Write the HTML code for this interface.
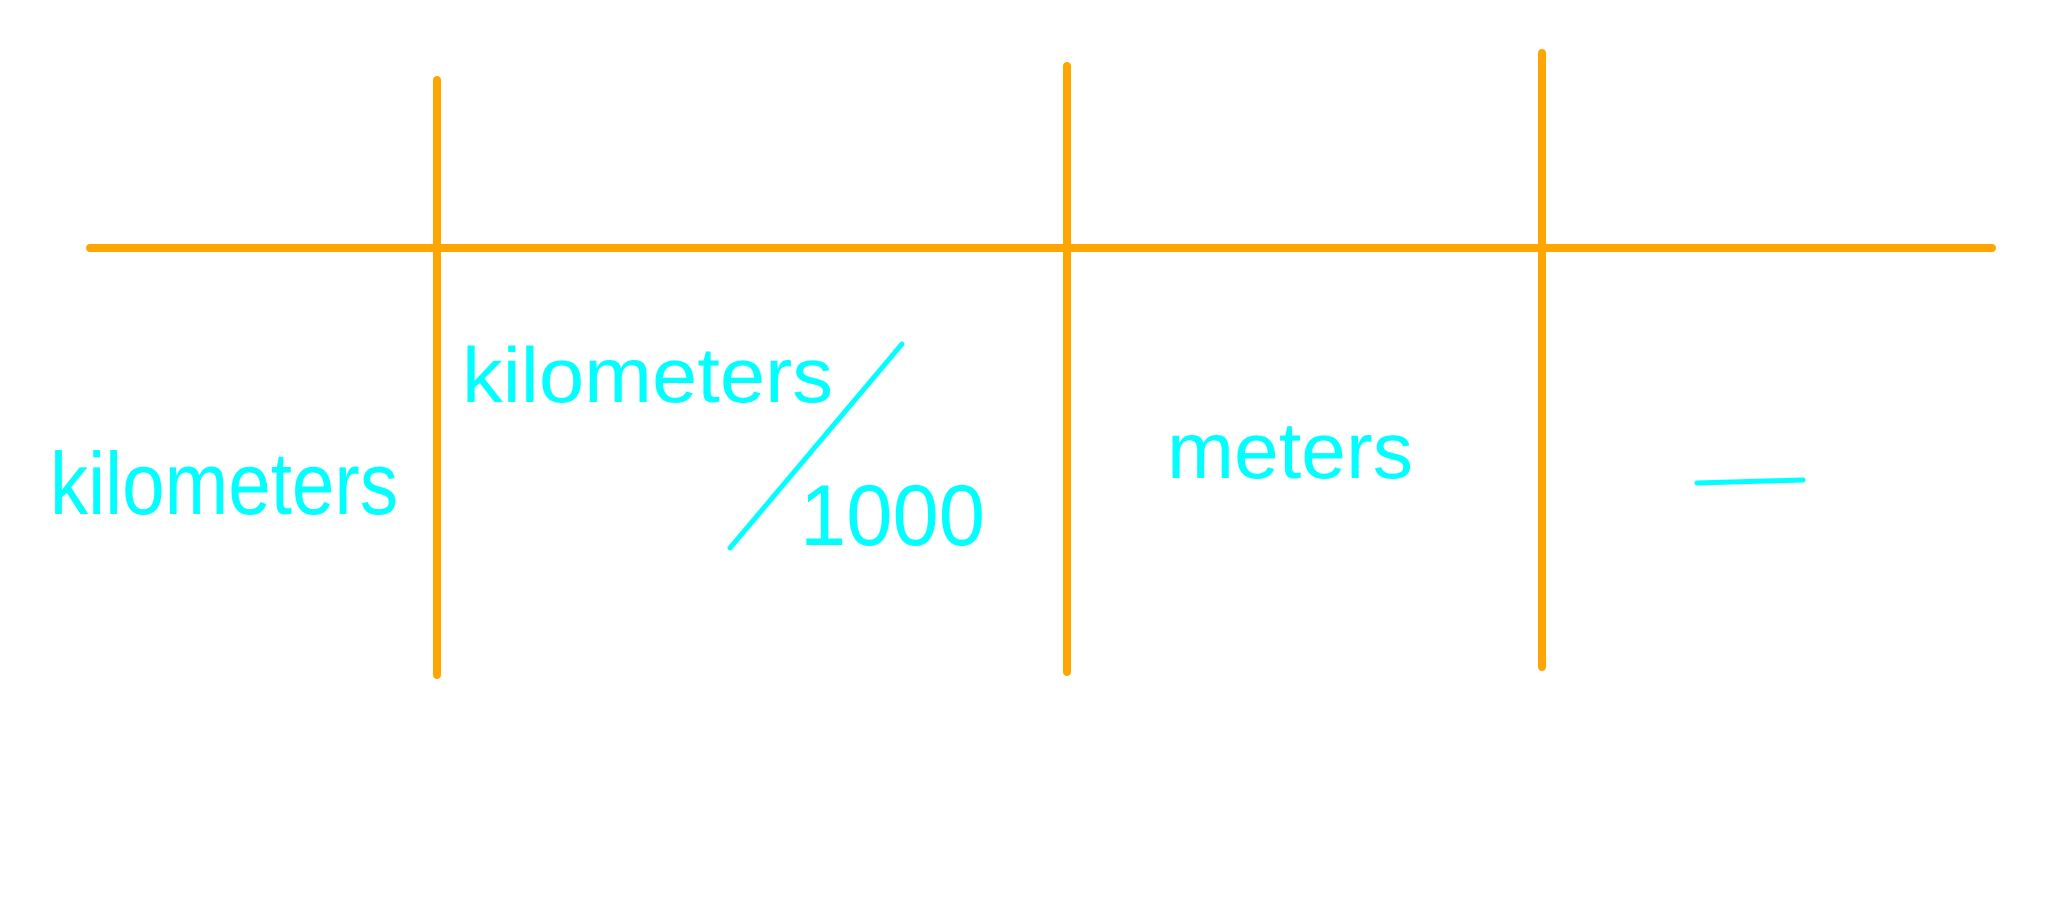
<!DOCTYPE html>
<html><head><meta charset="utf-8"><style>
html,body{margin:0;padding:0;background:#fff;}
svg{display:block}
text{font-family:"Liberation Sans",sans-serif;fill:#00ffff;font-weight:normal}
</style></head><body>
<svg width="2046" height="919" viewBox="0 0 2046 919" xmlns="http://www.w3.org/2000/svg">
<g stroke="#ffa500" stroke-width="8" stroke-linecap="round">
<line x1="90" y1="248" x2="1992" y2="248"/>
<line x1="437" y1="80" x2="437" y2="675"/>
<line x1="1067" y1="66" x2="1067" y2="672"/>
<line x1="1542" y1="53" x2="1542" y2="667"/>
</g>
<text x="50" y="514" font-size="88" textLength="348" lengthAdjust="spacingAndGlyphs">kilometers</text>
<text x="462" y="402" font-size="78" textLength="371" lengthAdjust="spacingAndGlyphs">kilometers</text>
<line x1="902" y1="344" x2="730" y2="548" stroke="#00ffff" stroke-width="5" stroke-linecap="round"/>
<text x="800" y="545" font-size="86" textLength="185" lengthAdjust="spacingAndGlyphs">1000</text>
<text x="1167" y="478" font-size="80" textLength="246" lengthAdjust="spacingAndGlyphs">meters</text>
<line x1="1697" y1="483" x2="1803" y2="480" stroke="#00ffff" stroke-width="5" stroke-linecap="round"/>
</svg>
</body></html>
